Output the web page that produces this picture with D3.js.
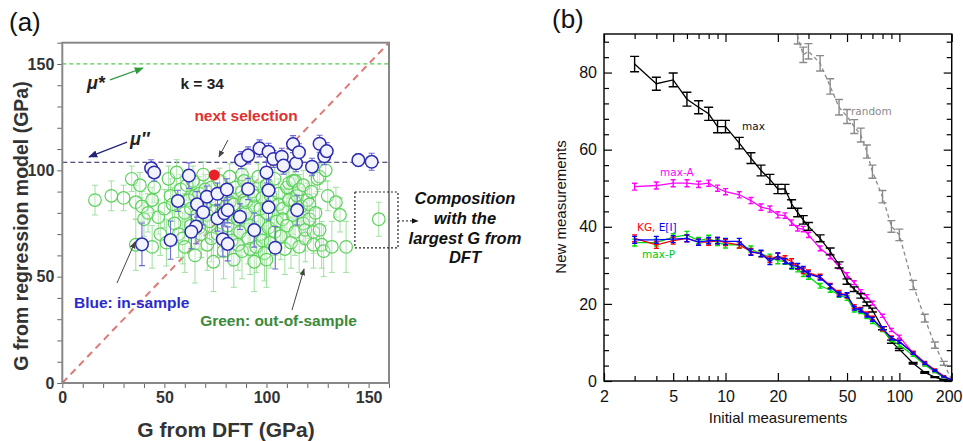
<!DOCTYPE html>
<html>
<head>
<meta charset="utf-8">
<script src="https://cdn.jsdelivr.net/npm/d3@7"></script>
<style>
  body { margin: 0; background: #fff; }
  svg { display: block; }
</style>
</head>
<body>
<div id="fig"></div>
<script>
// ---- panel (a) data : [G from DFT, G from model, error] ----
const greenPts = [
  [16,86,7],[24,88,7],[30,87,6],[34,96,6],[36,85,8],[38,93,6],[39,83,7],[40,77,8],[42,80,9],[44,86,6],
  [44,64,10],[36,65,12],[45,92,7],[47,78,8],[48,70,10],[50,82,9],[51,66,11],[52,96,6],[53,88,8],[54,84,8],
  [55,75,10],[56,99,6],[57,70,11],[58,91,7],[59,68,12],[60,80,9],[60,64,12],[61,93,7],[62,86,8],[63,74,10],
  [63,82,9],[64,95,7],[65,60,13],[65,88,8],[66,79,9],[67,89,8],[67,73,10],[68,70,11],[69,98,6],[70,83,9],
  [70,91,7],[71,65,12],[71,79,9],[72,76,10],[73,92,7],[73,68,11],[74,57,14],[75,86,8],[75,81,9],[76,70,11],
  [77,95,6],[78,80,9],[78,72,10],[79,62,13],[79,90,7],[80,88,8],[81,74,10],[82,97,6],[82,85,8],[83,67,12],
  [83,78,9],[84,58,13],[84,84,8],[85,92,7],[86,77,10],[86,65,12],[87,71,11],[88,62,13],[88,90,7],[88,98,6],
  [89,95,6],[89,86,8],[90,80,9],[90,85,8],[91,68,12],[92,74,10],[92,63,12],[93,90,7],[94,57,14],[94,83,8],
  [94,88,7],[95,64,12],[96,97,6],[96,76,10],[97,70,11],[97,82,9],[98,87,8],[98,67,11],[99,61,13],[100,93,7],
  [100,80,9],[100,58,13],[101,73,10],[102,66,12],[102,88,7],[103,85,8],[104,96,6],[104,71,11],[105,76,10],[106,89,7],
  [106,84,8],[107,69,11],[108,82,9],[108,77,10],[109,63,12],[110,92,7],[110,74,10],[111,86,8],[111,94,7],[112,66,12],
  [113,95,6],[113,79,9],[114,71,11],[114,85,8],[114,95,6],[115,88,8],[116,64,12],[116,91,7],[117,83,9],[118,75,10],
  [118,93,7],[119,68,11],[119,72,10],[120,86,8],[121,77,9],[121,84,8],[122,90,7],[123,71,10],[123,65,11],[124,80,9],
  [125,96,6],[126,97,6],[126,72,10],[127,65,11],[128,62,12],[129,100,5],[130,88,7],[132,64,12],[134,85,7],[136,79,8],
  [139,64,12],[155,77,8]
];
const bluePts = [
  [43.5,101,4],[45,99,4],[62,97.5,6],[56.6,85.6,5],[66,84,6],[70.8,87.6,5],[69,80.3,6],[76,89,5],[80.6,91,5],[76,77.4,6],
  [79.3,79.8,6],[81,81.3,6],[87,78.2,6],[91,91.2,5],[100,99,5],[101,90.6,5],[101,82.6,6],[94,71.9,8],[78.6,67.6,8],[81,65.4,8],
  [65.5,73.5,8],[63.2,71.1,8],[53,67.2,9],[39,65.2,10],[104.3,63.6,10],[115,81.3,7],[87.5,104.8,4],[91,107,4],[96.6,110.3,4],[101,108.7,4],
  [103.4,105.3,4],[107.5,106.4,4],[108.3,102.2,4],[113,112.3,4],[114.5,103.3,4],[115.9,108.5,4],[122.3,101.7,4],[126,112.5,4],[128.3,106.6,4],[129.5,109,4],
  [145,104.8,3],[151.5,104,4]
];
const nextPick = [74.4, 97.8];
const muStar = 150;
const muDouble = 103.8;
const ticksA = [0, 50, 100, 150];

// ---- panel (b) data ----
const initN = [3,4,5,6,7,8,9,10,12,14,16,18,20,22,24,26,28,30,35,40,45,50,55,60,65,70,80,90,100,120,140,160,180,200];
const maxVals  = [82.2,77.1,78.1,73.1,71.0,69.3,66.0,66.0,61.7,57.8,54.6,52.3,49.8,49.8,45.9,43.7,41.8,40.1,37.0,33.6,30.1,25.8,23.8,22.1,20.0,18.4,13.7,10.2,8.2,4.6,2.2,1.0,0.3,0];
const maxErr   = [2,1.7,1.8,1.8,1.7,1.7,1.6,1.6,1.5,1.4,1.4,1.3,1.2,1.2,1.1,1.1,1.1,1,0.9,0.9,0.8,0.7,0.6,0.6,0.5,0.5,0.4,0.4,0.3,0.2,0.2,0.1,0.1,0];
const maxAVals = [50.4,50.7,51.3,51.3,51.0,51.3,50.0,49.1,48.3,46.8,45.1,44.6,43.1,42.9,41.1,39.6,39.4,37.9,34.4,32.3,29.7,27.5,25.5,23.2,21.9,20.2,16.9,13.2,11.5,7.2,4.3,2.4,1.0,0.3];
const kgVals   = [37.0,35.3,36.4,37.0,36.0,36.0,36.4,35.9,35.3,33.6,33.0,31.6,32.4,31.8,31.0,29.7,28.6,28.1,27.1,24.7,22.9,22.1,19.3,18.6,17.4,16.3,13.4,11.3,10.2,7.4,4.8,2.9,1.3,0.3];
const eiVals   = [36.6,36.6,36.8,37.0,36.0,36.4,36.4,36.2,36.2,33.4,33.1,31.0,32.4,31.1,29.9,29.8,29.0,27.8,26.8,24.5,22.5,22.3,18.9,18.4,17.1,16.0,13.7,11.1,10.2,7.2,4.6,2.7,1.1,0.3];
const maxPVals = [35.9,35.9,37.3,37.9,36.4,37.0,35.9,35.3,35.3,34.2,33.0,32.1,31.2,31.0,29.7,29.0,27.8,27.1,24.7,23.6,22.3,21.5,18.4,18.0,16.7,15.4,13.2,10.6,9.3,6.7,4.2,2.4,1.0,0.3];
const colErr   = [0.9,0.9,0.9,0.9,0.8,0.8,0.8,0.8,0.8,0.8,0.8,0.8,0.8,0.7,0.7,0.7,0.7,0.7,0.6,0.6,0.6,0.6,0.5,0.5,0.5,0.5,0.4,0.4,0.4,0.3,0.3,0.2,0.1,0.1];
const randN    = [24,26,28,30,35,40,45,50,55,60,65,70,80,90,100,120,140,160,180,200];
const randVals = [93,89.4,84.6,85.5,82.4,76.4,71.0,68.6,66.0,63.8,59.5,54.3,47.8,40.1,37.9,24.9,16.3,9.3,4.6,0.3];
const randErr  = [2,2,2,2,2,2,2,1.8,1.8,1.8,1.7,1.7,1.6,1.5,1.5,1.2,1,0.8,0.5,0.2];
const xTicksB = [2,5,10,20,50,100,200];

const svg = d3.select('#fig').append('svg')
  .attr('width', 963).attr('height', 441)
  .style('font-family', 'Liberation Sans, Arial, sans-serif');

const defs = svg.append('defs');
function arrowHead(id, color) {
  defs.append('marker')
    .attr('id', id).attr('viewBox', '0 0 10 10')
    .attr('refX', 9).attr('refY', 5)
    .attr('markerWidth', 7).attr('markerHeight', 7)
    .attr('orient', 'auto-start-reverse')
    .append('path').attr('d', 'M0,1 L10,5 L0,9 z').attr('fill', color);
}
arrowHead('arGreen', '#2e9a3e');
arrowHead('arNavy', '#23237a');
arrowHead('arGray', '#444');
arrowHead('arBlack', '#111');

drawPanelA();
drawPanelB();

function drawPanelA() {
  const x = d3.scaleLinear().domain([0, 160]).range([62.3, 389]);
  const y = d3.scaleLinear().domain([0, 160]).range([383, 42.7]);

  svg.append('text').attr('x', 9).attr('y', 31)
    .style('font-size', '26px').attr('fill', '#111').text('(a)');

  svg.append('defs').append('clipPath').attr('id', 'clipA')
    .append('rect').attr('x', 62.3).attr('y', 42.7).attr('width', 389 - 62.3).attr('height', 383 - 42.7);

  // axes
  const xAxis = svg.append('g').attr('transform', 'translate(0,383)')
    .call(d3.axisBottom(x).tickValues(d3.range(0, 161, 10)).tickSize(5).tickPadding(4).tickSizeOuter(0)
      .tickFormat(d => ticksA.includes(d) ? d : ''));
  const yAxis = svg.append('g').attr('transform', 'translate(62.3,0)')
    .call(d3.axisLeft(y).tickValues(d3.range(0, 161, 10)).tickSize(5).tickPadding(3).tickSizeOuter(0)
      .tickFormat(d => ticksA.includes(d) ? d : ''));
  [xAxis, yAxis].forEach(g => {
    g.select('.domain').remove();
    g.selectAll('line').attr('stroke', '#666');
    g.selectAll('text').style('font-size', '16px').style('font-weight', 'bold').attr('fill', '#333');
  });

  const plot = svg.append('g').attr('clip-path', 'url(#clipA)');

  // reference lines
  plot.append('line').attr('x1', x(0)).attr('x2', x(160)).attr('y1', y(muStar)).attr('y2', y(muStar))
    .attr('stroke', '#55cc55').attr('stroke-width', 1.2).attr('stroke-dasharray', '4,3');
  plot.append('line').attr('x1', x(0)).attr('x2', x(160)).attr('y1', y(muDouble)).attr('y2', y(muDouble))
    .attr('stroke', '#222266').attr('stroke-width', 1.2).attr('stroke-dasharray', '5,3');
  plot.append('line').attr('x1', x(0)).attr('x2', x(160)).attr('y1', y(0)).attr('y2', y(160))
    .attr('stroke', '#e07878').attr('stroke-width', 2).attr('stroke-dasharray', '7,5');

  // green (out-of-sample)
  const gG = plot.append('g');
  gG.selectAll('path.eb').data(greenPts).enter().append('path')
    .attr('d', d => {
      const cx = x(d[0]), y1 = y(d[1] - d[2]), y2 = y(d[1] + d[2]);
      return `M${cx},${y1}V${y2}M${cx-3},${y1}H${cx+3}M${cx-3},${y2}H${cx+3}`;
    })
    .attr('stroke', '#9ee09e').attr('stroke-width', 1).attr('fill', 'none');
  gG.selectAll('circle').data(greenPts).enter().append('circle')
    .attr('cx', d => x(d[0])).attr('cy', d => y(d[1])).attr('r', 6.3)
    .attr('fill', 'rgba(255,255,255,0.25)').attr('stroke', '#5ad25a').attr('stroke-width', 1.2);

  // blue (in-sample)
  const gB = plot.append('g');
  gB.selectAll('path.eb').data(bluePts).enter().append('path')
    .attr('d', d => {
      const cx = x(d[0]), y1 = y(d[1] - d[2]), y2 = y(d[1] + d[2]);
      return `M${cx},${y1}V${y2}M${cx-3},${y1}H${cx+3}M${cx-3},${y2}H${cx+3}`;
    })
    .attr('stroke', '#6a6ad8').attr('stroke-width', 1.1).attr('fill', 'none');
  gB.selectAll('circle').data(bluePts).enter().append('circle')
    .attr('cx', d => x(d[0])).attr('cy', d => y(d[1])).attr('r', 6.3)
    .attr('fill', '#f3f3ff').attr('stroke', '#2c2cb0').attr('stroke-width', 1.5);

  plot.append('circle').attr('cx', x(nextPick[0])).attr('cy', y(nextPick[1])).attr('r', 5.5)
    .attr('fill', '#e8202a');

  // frame
  svg.append('rect').attr('x', 62.3).attr('y', 42.7).attr('width', 389 - 62.3).attr('height', 383 - 42.7)
    .attr('fill', 'none').attr('stroke', '#888').attr('stroke-width', 2);

  // axis titles
  svg.append('text').attr('transform', `translate(28,226) rotate(-90)`)
    .attr('text-anchor', 'middle').style('font-size', '19.5px').style('font-weight', 'bold')
    .attr('fill', '#333').text('G from regression model (GPa)');
  svg.append('text').attr('x', 226).attr('y', 437).attr('text-anchor', 'middle')
    .style('font-size', '21px').style('font-weight', 'bold').attr('fill', '#333').text('G from DFT (GPa)');

  // annotations
  const ann = svg.append('g').style('font-weight', 'bold');
  ann.append('text').attr('x', x(12.1)).attr('y', y(138.2)).style('font-size', '18px')
    .style('font-style', 'italic').attr('fill', '#222').text('μ*');
  ann.append('line').attr('x1', x(23.4)).attr('y1', y(142.5)).attr('x2', x(39.5)).attr('y2', y(148.1))
    .attr('stroke', '#2e9a3e').attr('stroke-width', 1.3).attr('marker-end', 'url(#arGreen)');
  ann.append('text').attr('x', x(68.5)).attr('y', y(138.2)).attr('text-anchor', 'middle')
    .style('font-size', '15.5px').attr('fill', '#222').text('k = 34');
  ann.append('text').attr('x', x(90)).attr('y', y(123.2)).attr('text-anchor', 'middle')
    .style('font-size', '15.5px').attr('fill', '#e03030').text('next selection');
  ann.append('line').attr('x1', x(81.1)).attr('y1', y(114.2)).attr('x2', x(76.7)).attr('y2', y(106.3))
    .attr('stroke', '#444').attr('stroke-width', 1).attr('marker-end', 'url(#arGray)');
  ann.append('text').attr('x', x(33.2)).attr('y', y(111.9)).style('font-size', '18px')
    .style('font-style', 'italic').attr('fill', '#222').text('μ″');
  ann.append('line').attr('x1', x(31.7)).attr('y1', y(113.3)).attr('x2', x(13.1)).attr('y2', y(106.3))
    .attr('stroke', '#23237a').attr('stroke-width', 1.3).attr('marker-end', 'url(#arNavy)');
  ann.append('text').attr('x', x(5.7)).attr('y', y(35.3)).style('font-size', '15.5px')
    .attr('fill', '#2a2acc').text('Blue: in-sample');
  ann.append('line').attr('x1', x(26.8)).attr('y1', y(47)).attr('x2', x(35.6)).attr('y2', y(66.3))
    .attr('stroke', '#444').attr('stroke-width', 1).attr('marker-end', 'url(#arGray)');
  ann.append('text').attr('x', x(67.5)).attr('y', y(26.8)).style('font-size', '15.5px')
    .attr('fill', '#3a8a3a').text('Green: out-of-sample');
  ann.append('line').attr('x1', x(112.5)).attr('y1', y(34.3)).attr('x2', x(118.4)).attr('y2', y(53.6))
    .attr('stroke', '#444').attr('stroke-width', 1).attr('marker-end', 'url(#arGray)');

  // box around the largest-G composition
  ann.append('rect').attr('x', x(143.3)).attr('y', y(89.8))
    .attr('width', x(164.4) - x(143.3)).attr('height', y(63.5) - y(89.8))
    .attr('fill', 'none').attr('stroke', '#222').attr('stroke-width', 1.2).attr('stroke-dasharray', '2,2');
  ann.append('line').attr('x1', x(164.4)).attr('y1', y(76.2)).attr('x2', x(174.2)).attr('y2', y(76.2))
    .attr('stroke', '#111').attr('stroke-width', 1).attr('stroke-dasharray', '2,2').attr('marker-end', 'url(#arBlack)');
  const comp = ['Composition', 'with the', 'largest G from', 'DFT'];
  const compY = [84.2, 74.8, 65.4, 56.4];
  ann.selectAll('text.comp').data(comp).enter().append('text')
    .attr('x', x(197.2)).attr('y', (d, i) => y(compY[i])).attr('text-anchor', 'middle')
    .style('font-size', '16.5px').style('font-style', 'italic').attr('fill', '#111').text(d => d);
}

function drawPanelB() {
  const L = 604, R = 951.7, T = 34, B = 381;
  const x = d3.scaleLog().domain([2, 200]).range([L, R]);
  const y = d3.scaleLinear().domain([0, 90]).range([B, T]);

  svg.append('text').attr('x', 552).attr('y', 28)
    .style('font-size', '26px').attr('fill', '#111').text('(b)');

  svg.append('defs').append('clipPath').attr('id', 'clipB')
    .append('rect').attr('x', L).attr('y', T).attr('width', R - L).attr('height', B - T);

  const xMinor = [2,3,4,5,6,7,8,9,10,20,30,40,50,60,70,80,90,100,200];
  const yMajor = d3.range(0, 81, 20);
  const yMinor = d3.range(0, 89, 4).filter(v => v % 20 !== 0);

  // major + labelled axes, ticks inward
  const axes = svg.append('g');
  const bottom = axes.append('g').attr('transform', `translate(0,${B})`)
    .call(d3.axisBottom(x).tickValues(xTicksB).tickFormat(d3.format('d')).tickSize(-8).tickPadding(10).tickSizeOuter(0));
  axes.append('g').attr('transform', `translate(0,${T})`)
    .call(d3.axisTop(x).tickValues(xTicksB).tickFormat('').tickSize(-8).tickSizeOuter(0));
  axes.append('g').attr('transform', `translate(${L},0)`)
    .call(d3.axisLeft(y).tickValues(yMajor).tickSize(-8).tickPadding(7).tickSizeOuter(0));
  axes.append('g').attr('transform', `translate(${R},0)`)
    .call(d3.axisRight(y).tickValues(yMajor).tickFormat('').tickSize(-8).tickSizeOuter(0));
  // minor ticks
  axes.append('g').attr('transform', `translate(0,${B})`)
    .call(d3.axisBottom(x).tickValues(xMinor.filter(v => !xTicksB.includes(v))).tickFormat('').tickSize(-5).tickSizeOuter(0));
  axes.append('g').attr('transform', `translate(0,${T})`)
    .call(d3.axisTop(x).tickValues(xMinor.filter(v => !xTicksB.includes(v))).tickFormat('').tickSize(-5).tickSizeOuter(0));
  axes.append('g').attr('transform', `translate(${L},0)`)
    .call(d3.axisLeft(y).tickValues(yMinor).tickFormat('').tickSize(-5).tickSizeOuter(0));
  axes.append('g').attr('transform', `translate(${R},0)`)
    .call(d3.axisRight(y).tickValues(yMinor).tickFormat('').tickSize(-5).tickSizeOuter(0));
  axes.selectAll('.domain').remove();
  axes.selectAll('line').attr('stroke', '#000').attr('stroke-width', 1.2);
  axes.selectAll('text').style('font-size', '16px').attr('fill', '#111');
  // keep the last label inside the page
  bottom.selectAll('.tick text').filter(d => d === 200).attr('text-anchor', 'end').attr('x', 962 - R);

  const plot = svg.append('g').attr('clip-path', 'url(#clipB)');
  const line = d3.line().x(d => x(d[0])).y(d => y(d[1]));

  function series(xs, vals, errs, color, cap, dashed, barColor) {
    const pts = xs.map((v, i) => [v, vals[i], errs[i]]);
    plot.append('path').datum(pts).attr('d', line)
      .attr('fill', 'none').attr('stroke', color).attr('stroke-width', 1.3)
      .attr('stroke-dasharray', dashed ? '4,3' : null);
    plot.append('g').selectAll('path').data(pts).enter().append('path')
      .attr('d', d => {
        const cx = x(d[0]), y1 = y(d[1] - d[2]), y2 = y(d[1] + d[2]);
        return `M${cx},${y1}V${y2}M${cx-cap},${y1}H${cx+cap}M${cx-cap},${y2}H${cx+cap}`;
      })
      .attr('fill', 'none').attr('stroke', barColor || color).attr('stroke-width', 1.4);
  }

  series(randN, randVals, randErr, '#8a8a8a', 4, true, '#8a8a8a');
  series(initN, maxAVals, colErr, '#ff00ff', 2.5);
  series(initN, maxVals, maxErr, '#000', 4.5);
  series(initN, maxPVals, colErr, '#00dd00', 2.5);
  series(initN, kgVals, colErr, '#ff0000', 2.5);
  series(initN, eiVals, colErr, '#0000ff', 2.5);

  svg.append('rect').attr('x', L).attr('y', T).attr('width', R - L).attr('height', B - T)
    .attr('fill', 'none').attr('stroke', '#000').attr('stroke-width', 1.4);

  // axis titles
  svg.append('text').attr('transform', `translate(566,207) rotate(-90)`)
    .attr('text-anchor', 'middle').style('font-size', '15px').attr('fill', '#111').text('New measurements');
  svg.append('text').attr('x', 778).attr('y', 423).attr('text-anchor', 'middle')
    .style('font-size', '15px').attr('fill', '#111').text('Initial measurements');

  // series labels
  const lab = svg.append('g').style('font-family', 'DejaVu Sans, sans-serif').style('font-size', '10.5px');
  lab.append('text').attr('x', 742).attr('y', 130).attr('fill', '#111').text('max');
  lab.append('text').attr('x', 851).attr('y', 115).attr('fill', '#8a8a8a').text('random');
  lab.append('text').attr('x', 660).attr('y', 176).attr('fill', '#ff00ff').text('max-A');
  const kg = lab.append('text').attr('x', 637).attr('y', 231);
  kg.append('tspan').attr('fill', '#ff0000').text('KG, ');
  kg.append('tspan').attr('fill', '#0000ff').text('E[I]');
  lab.append('text').attr('x', 642).attr('y', 258).attr('fill', '#00cc00').text('max-P');
}
</script>
</body>
</html>
